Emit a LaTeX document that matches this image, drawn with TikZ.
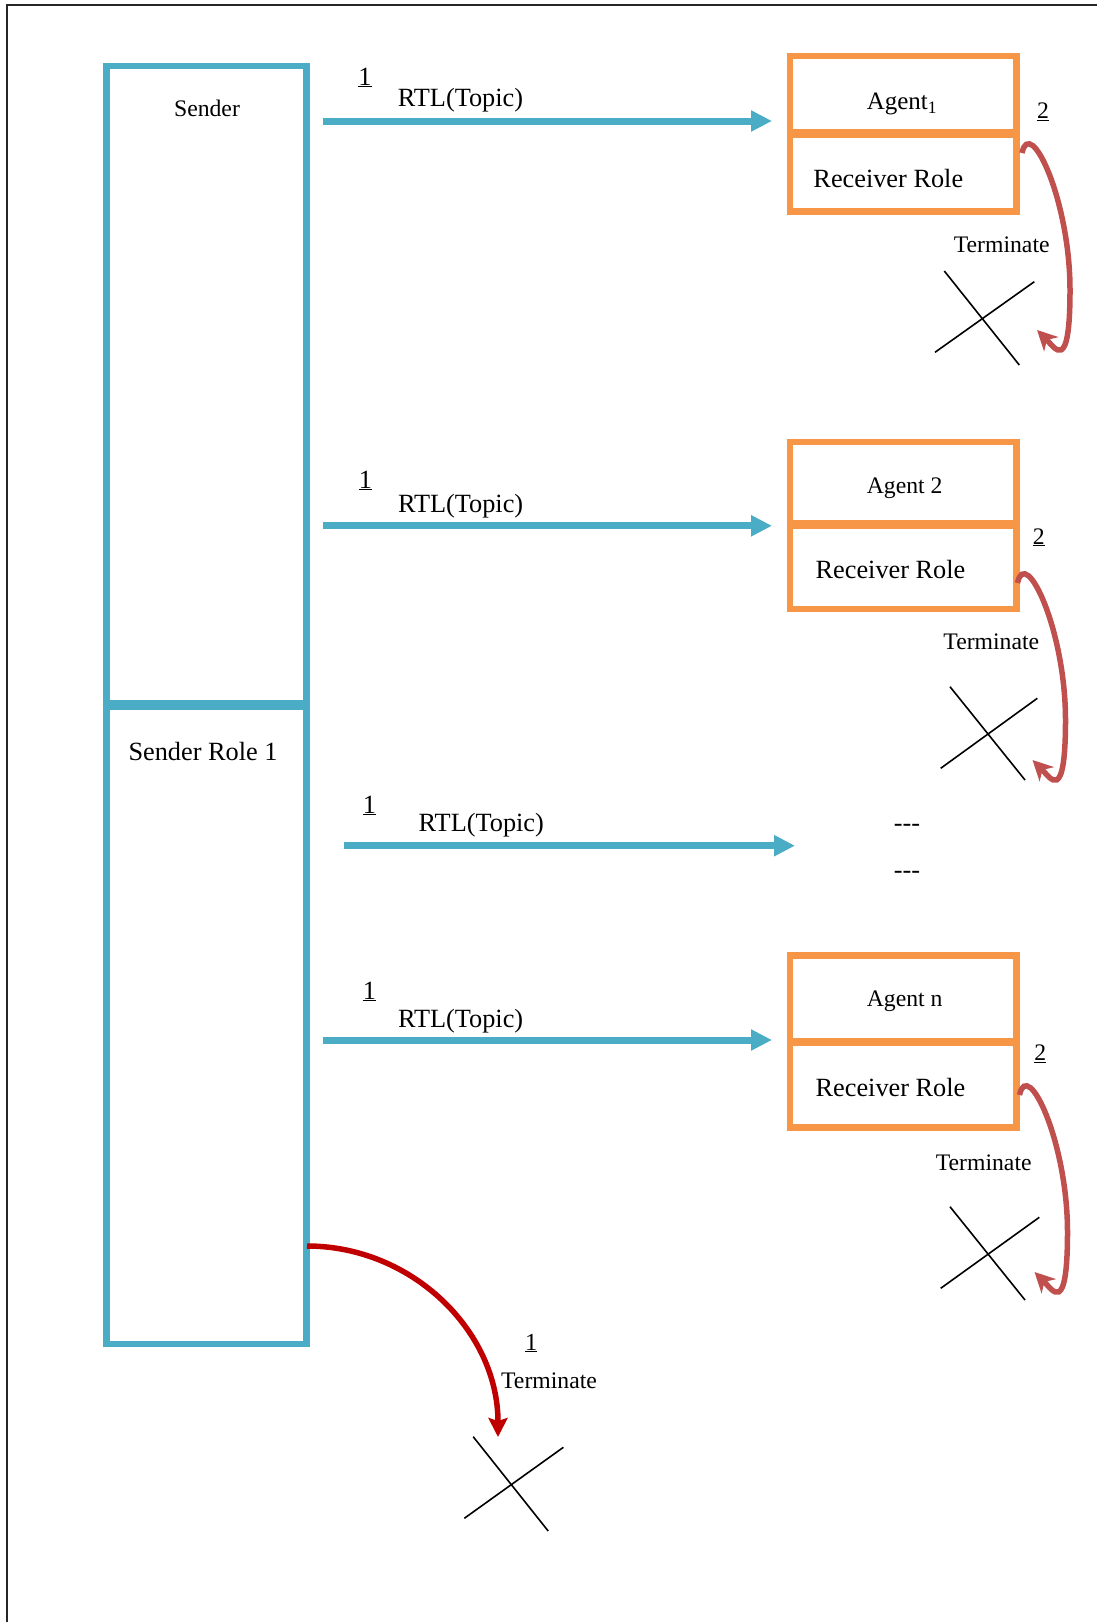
\documentclass[tikz,border=0pt]{standalone}
\usepackage{fontspec}
\setmainfont{Liberation Serif}
\usetikzlibrary{arrows.meta}
\definecolor{sblue}{HTML}{4BACC6}
\definecolor{aorange}{HTML}{F79646}
\definecolor{lred}{HTML}{C0504D}
\definecolor{dred}{HTML}{C00000}
\begin{document}
\begin{tikzpicture}[x=1pt,y=-1pt,
  sbox/.style={draw=sblue,line width=6.6pt,inner sep=0pt,outer sep=0pt,minimum width=200pt,minimum height=637.3pt},
  abox/.style={draw=aorange,line width=6.6pt,inner sep=0pt,outer sep=0pt,minimum width=226.3pt},
  lbl/.style={anchor=base,inner sep=0pt,outer sep=0pt},
  bigtxt/.style={font=\fontsize{26.3}{30}\selectfont},
  smalltxt/.style={font=\fontsize{23.7}{28}\selectfont},
  msg/.style={draw=sblue,line width=7pt,-{Triangle[length=21pt,width=20pt]}},
  selfterm/.style={draw=lred,line width=5.5pt,-{Stealth[length=20pt,width=20pt,inset=6pt]}},
  termarrow/.style={draw=dred,line width=5.5pt,-{Stealth[length=19pt,width=19pt,inset=3pt]}},
  crossline/.style={draw=black,line width=1.6pt},
  frame/.style={draw=black!85,line width=2pt}
]
\useasboundingbox (0,0) rectangle (1097,1622);
% frame
\coordinate (fTR) at (1097,5);
\coordinate (fTL) at (7,5);
\coordinate (fBL) at (7,1622);
\draw[frame] (fTR) -- (fTL) -- (fBL);

% sender boxes
\node[sbox] (sender) at (206.7,384.7) {};
\node[sbox] (senderrole) at (206.7,1025.3) {};
\node[lbl,smalltxt] (sendertxt) at (207,116.5) {Sender};
\node[lbl,bigtxt] (senderroletxt) at (203,760.7) {Sender Role 1};

% agent boxes
\node[abox,minimum height=76.6pt] (agent1) at (903.2,94.3) {};
\node[abox,minimum height=76.7pt] (recv1) at (903.2,173.35) {};
\node[abox,minimum height=81.3pt] (agent2) at (903.2,482.65) {};
\node[abox,minimum height=83pt] (recv2) at (903.2,567.5) {};
\node[abox,minimum height=85.5pt] (agentn) at (903.2,998.25) {};
\node[abox,minimum height=84.8pt] (recvn) at (903.2,1085.1) {};

\node[lbl,bigtxt,font=\fontsize{25}{30}\selectfont] (agent1txt) at (902,109.3) {Agent\textsubscript{1}};
\node[lbl,bigtxt] (recv1txt) at (888.3,187.3) {Receiver Role};
\node[lbl,smalltxt] (agent2txt) at (904.7,493.3) {Agent 2};
\node[lbl,bigtxt] (recv2txt) at (890.5,578.3) {Receiver Role};
\node[lbl,smalltxt] (agentntxt) at (904.7,1006.7) {Agent n};
\node[lbl,bigtxt] (recvntxt) at (890.5,1096) {Receiver Role};

% messages
\coordinate (m1s) at (323,121);    \coordinate (m1e) at (772,121);
\coordinate (m2s) at (323,525.8);  \coordinate (m2e) at (772,525.8);
\coordinate (m3s) at (343.7,845.7);\coordinate (m3e) at (795,845.7);
\coordinate (m4s) at (323,1040);   \coordinate (m4e) at (772,1040);
\draw[msg] (m1s) -- (m1e);
\draw[msg] (m2s) -- (m2e);
\draw[msg] (m3s) -- (m3e);
\draw[msg] (m4s) -- (m4e);

\node[lbl,bigtxt] (n1) at (365,85) {\underline{1}};
\node[lbl,bigtxt] (rtl1) at (460.5,106) {RTL(Topic)};
\node[lbl,bigtxt] (n2) at (365.4,488) {\underline{1}};
\node[lbl,bigtxt] (rtl2) at (460.6,512) {RTL(Topic)};
\node[lbl,bigtxt] (n3) at (369.5,813) {\underline{1}};
\node[lbl,bigtxt] (rtl3) at (481.3,831) {RTL(Topic)};
\node[lbl,bigtxt] (n4) at (369.5,999) {\underline{1}};
\node[lbl,bigtxt] (rtl4) at (460.6,1027) {RTL(Topic)};

\node[lbl,bigtxt] (dash1) at (907,831.5) {-{}-{}-};
\node[lbl,bigtxt] (dash2) at (907,878) {-{}-{}-};

% self terminations
\node[lbl,smalltxt] (two1) at (1043,118.3) {\underline{2}};
\node[lbl,smalltxt] (term1) at (1001.7,252.3) {Terminate};
\node[lbl,smalltxt] (two2) at (1038.8,544) {\underline{2}};
\node[lbl,smalltxt] (term2) at (991.3,649.3) {Terminate};
\node[lbl,smalltxt] (twon) at (1040.3,1060.7) {\underline{2}};
\node[lbl,smalltxt] (termn) at (983.7,1170) {Terminate};

\coordinate (l1s) at (1022,153);   \coordinate (l1e) at (1037,330);
\coordinate (l2s) at (1017.5,583); \coordinate (l2e) at (1032.5,760);
\coordinate (lns) at (1019.5,1095);\coordinate (lne) at (1034.5,1272);
\draw[selfterm] (l1s) .. controls (1030,115) and (1070,200) .. (1070,290)
   .. controls (1070,375) and (1055,348) .. (l1e);
\draw[selfterm] (l2s) .. controls (1025.5,545) and (1065.5,630) .. (1065.5,720)
   .. controls (1065.5,805) and (1050.5,778) .. (l2e);
\draw[selfterm] (lns) .. controls (1027.5,1057) and (1067.5,1142) .. (1067.5,1232)
   .. controls (1067.5,1317) and (1052.5,1290) .. (lne);

% crosses
\draw[crossline] (944.3,271) -- (1019.3,365);
\draw[crossline] (935,352.3) -- (1034.3,281.7);
\draw[crossline] (950,686.7) -- (1025,780);
\draw[crossline] (940.7,768.3) -- (1037.3,698.3);
\draw[crossline] (950,1206.7) -- (1025,1300);
\draw[crossline] (940.7,1288.3) -- (1039.3,1217.3);
\draw[crossline] (473.2,1436.7) -- (548.2,1531);
\draw[crossline] (464.3,1518.3) -- (563.4,1447.3);

% sender termination
\coordinate (bs) at (307,1246);
\coordinate (be) at (498,1437);
\draw[termarrow] (bs) .. controls (412,1246) and (498,1331) .. (be);
\node[lbl,smalltxt,font=\fontsize{24.5}{28}\selectfont] (nb) at (531.3,1350) {\underline{1}};
\node[lbl,smalltxt] (termb) at (549,1388.3) {Terminate};
\end{tikzpicture}
\end{document}
